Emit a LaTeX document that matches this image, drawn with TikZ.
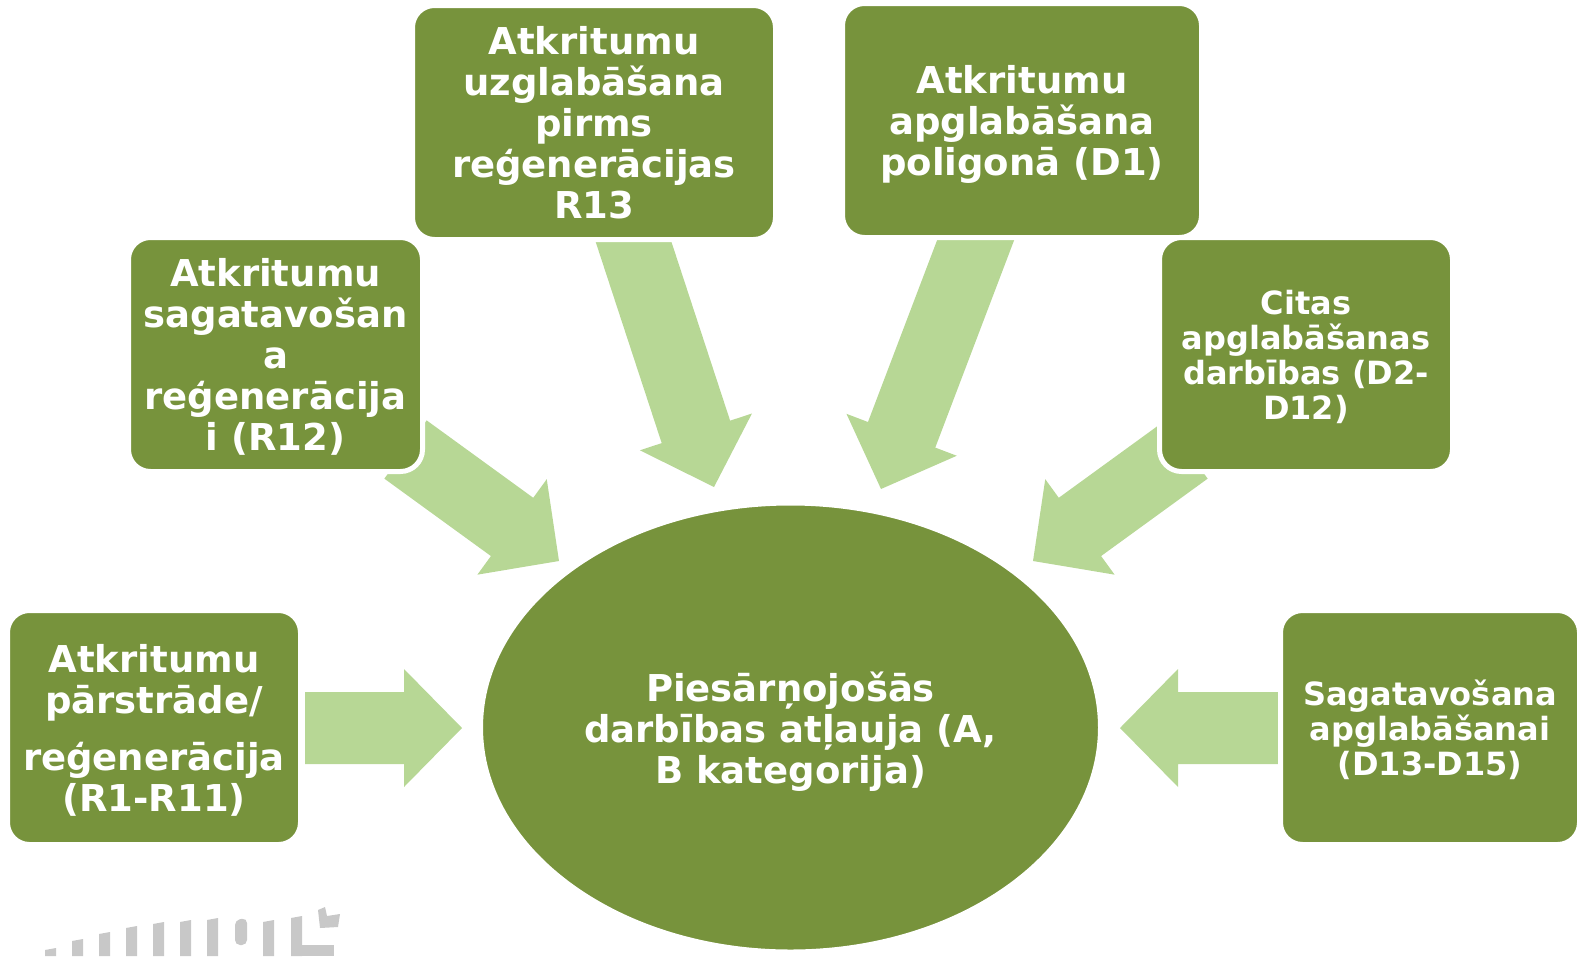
\documentclass[tikz,border=0pt]{standalone}
\usepackage{fontspec}
\setmainfont{DejaVu Sans}
\usetikzlibrary{calc}
\usetikzlibrary{shapes.geometric}
\usetikzlibrary{backgrounds}

\definecolor{boxgreen}{HTML}{77933C}
\definecolor{arrowgreen}{HTML}{B7D795}
\definecolor{logogray}{HTML}{C8C8C8}

\tikzset{
  box/.style={rectangle,rounded corners=22pt,fill=boxgreen,draw=white,line width=5pt,
    text=white,font=\bfseries\fontsize{37}{41}\selectfont,align=center,inner sep=0pt,
    text depth=0pt,minimum height=234pt},
  smallbox/.style={box,font=\bfseries\fontsize{32}{35}\selectfont},
  bigarrow/.style={fill=arrowgreen}
}

% block arrow from tail #1 to tip #2
\newcommand{\blockarrow}[2]{%
  \coordinate (hb) at ($(#2)!58pt!(#1)$);
  \fill[bigarrow] ($(#1)!36pt!90:(#2)$) -- ($(hb)!36pt!90:(#2)$) -- ($(hb)!59pt!90:(#2)$)
    -- (#2) -- ($(hb)!59pt!-90:(#2)$) -- ($(hb)!36pt!-90:(#2)$) -- ($(#1)!36pt!-90:(#2)$) -- cycle;
}

\begin{document}
\begin{tikzpicture}[x=1pt,y=-1pt]
\useasboundingbox (0,0) rectangle (1579,956);

\node[ellipse,fill=boxgreen,draw=white,line width=5pt,minimum width=620pt,minimum height=449pt,
  inner sep=0pt,text=white,font=\bfseries\fontsize{37}{41}\selectfont,align=center,text depth=0pt]
  (permit) at (790.5,727.5) {Piesārņojošās\\darbības atļauja (A,\\B kategorija)};

\node[box,minimum width=363pt] (storage) at (594,122.5) {Atkritumu\\uzglabāšana\\pirms\\reģenerācijas\\R13};
\node[box,minimum width=359pt] (landfill) at (1022,120.5) {Atkritumu\\apglabāšana\\poligonā (D1)};
\node[box,minimum width=294pt] (prepregen) at (275.5,354.5) {Atkritumu\\sagatavošan\\a\\reģenerācija\\i (R12)};
\node[smallbox,minimum width=293pt] (otherdisp) at (1306,354.5) {Citas\\apglabāšanas\\darbības (D2-\\D12)};
\node[box,minimum width=293pt] (recycling) at (154,727.5) {Atkritumu\\pārstrāde/\\[16pt]reģenerācija\\(R1-R11)};
\node[smallbox,minimum width=299pt] (prepdisp) at (1430,727.5) {Sagatavošana\\apglabāšanai\\(D13-D15)};

\coordinate (t1) at (305,728);
\coordinate (p1) at (462,728);
\coordinate (t2) at (1278,728);
\coordinate (p2) at (1120,728);
\coordinate (t3) at (629,228);
\coordinate (p3) at (714,487);
\coordinate (t4) at (981,226);
\coordinate (p4) at (881,489);
\coordinate (t5) at (405.5,449.5);
\coordinate (p5) at (559,561);
\coordinate (t6) at (1186.5,449.5);
\coordinate (p6) at (1033,561);

\begin{scope}[on background layer]
\blockarrow{t1}{p1}
\blockarrow{t2}{p2}
\blockarrow{t3}{p3}
\blockarrow{t4}{p4}
\blockarrow{t5}{p5}
\blockarrow{t6}{p6}

% logo fragment
\foreach \x/\t in {45/949,72/940,99/933,126/927,153/923,180/921,207/919,263/921,291/917}
  \fill[logogray] (\x,\t+1) -- (\x+11,\t-1) -- (\x+11,956) -- (\x,956) -- cycle;
\fill[logogray,rounded corners=5pt] (235,920) -- (247,918) -- (247,945) -- (235,945) -- cycle;
\fill[logogray] (302,945) rectangle (334,956);
\fill[logogray] (318,910) -- (325,907) -- (327,916) -- (340,914) -- (338,927) -- (320,928) -- cycle;
\end{scope}
\end{tikzpicture}
\end{document}
